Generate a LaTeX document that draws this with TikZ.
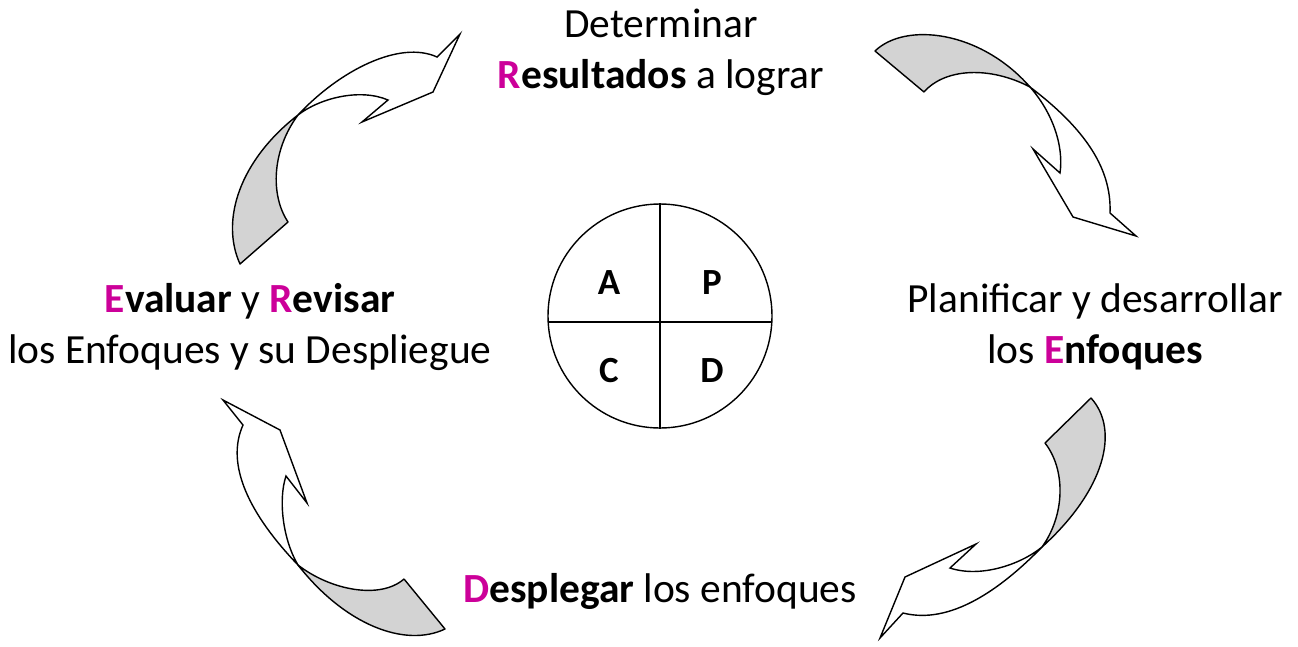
\documentclass[tikz,border=0pt]{standalone}
\usepackage{fontspec}
\setmainfont{Carlito}
\definecolor{mag}{HTML}{CC0099}
\definecolor{tailgray}{RGB}{211,211,211}
\begin{document}
\begin{tikzpicture}[x=0.02cm,y=-0.02cm,
  lbl/.style={font=\fontsize{23.6}{28.8}\selectfont, align=center, inner sep=0pt},
  quad/.style={font=\fontsize{21}{24}\selectfont\bfseries, inner sep=0pt},
  back/.style={draw=black, line width=0.8pt, fill=tailgray, line join=round},
  front/.style={draw=black, line width=0.8pt, fill=white, line join=miter}]
\useasboundingbox (0,0) rectangle (1298,646);

% ---- central circle ----
\node[circle, draw, line width=0.8pt, minimum size=224*0.02cm, inner sep=0pt] (pdca) at (660,316) {};
\coordinate (hl) at (548.2,322);
\coordinate (hr) at (771.8,322);
\draw[line width=0.8pt] (pdca.north) -- (pdca.south);
\draw[line width=0.8pt] (hl) -- (hr);
\node[quad] (qa) at (609,283) {A};
\node[quad] (qp) at (712,283) {P};
\node[quad] (qc) at (609,371) {C};
\node[quad] (qd) at (712,371) {D};

% ---- labels ----
\node[lbl] (top) at (661,52) {Determinar\\{\bfseries\textcolor{mag}{R}esultados} a lograr};
\node[lbl] (right) at (1095,327) {Planificar y desarrollar\\los {\bfseries\textcolor{mag}{E}nfoques}};
\node[lbl] (left) at (250,327) {{\bfseries\textcolor{mag}{E}valuar} y {\bfseries\textcolor{mag}{R}evisar}\\los Enfoques y su Despliegue};
\node[lbl] (bottom) at (660,591) {{\bfseries\textcolor{mag}{D}esplegar} los enfoques};

% ---- arrow top-right ----
\coordinate (x1) at (1030,87);
\fill[back] (875,51) .. controls (905,22) and (980,30) .. (x1)
  .. controls (990,66) and (945,68) .. (924,92) -- cycle;
\fill[front] (x1) .. controls (1080,125) and (1112,165) .. (1110,213)
  -- (1136,236) -- (1073,217) -- (1033,149) -- (1060,173)
  .. controls (1064,145) and (1052,112) .. (x1) -- cycle;

% ---- arrow bottom-right ----
\coordinate (x2) at (1042,547);
\fill[back] (1091,398) .. controls (1120,430) and (1105,490) .. (x2)
  .. controls (1065,515) and (1066,470) .. (1045,443) -- cycle;
\fill[front] (x2) .. controls (1000,590) and (950,625) .. (903,613)
  -- (880,638) -- (905,577) -- (976,544) -- (950,568)
  .. controls (980,578) and (1020,565) .. (x2) -- cycle;

% ---- arrow bottom-left ----
\coordinate (x3) at (298,565);
\fill[back] (445,629) .. controls (405,648) and (345,625) .. (x3)
  .. controls (330,590) and (380,600) .. (404,579) -- cycle;
\fill[front] (x3) .. controls (250,515) and (225,465) .. (243,425)
  -- (223,400) -- (280,430) -- (307,503) -- (286,476)
  .. controls (278,500) and (283,540) .. (x3) -- cycle;

% ---- arrow top-left ----
\coordinate (x4) at (298,115);
\fill[back] (240,264) .. controls (220,220) and (240,160) .. (x4)
  .. controls (272,150) and (270,195) .. (288,222) -- cycle;
\fill[front] (x4) .. controls (340,70) and (400,40) .. (437,57)
  -- (460,34) -- (433,92) -- (362,122) -- (388,100)
  .. controls (360,88) and (320,98) .. (x4) -- cycle;
\end{tikzpicture}
\end{document}
